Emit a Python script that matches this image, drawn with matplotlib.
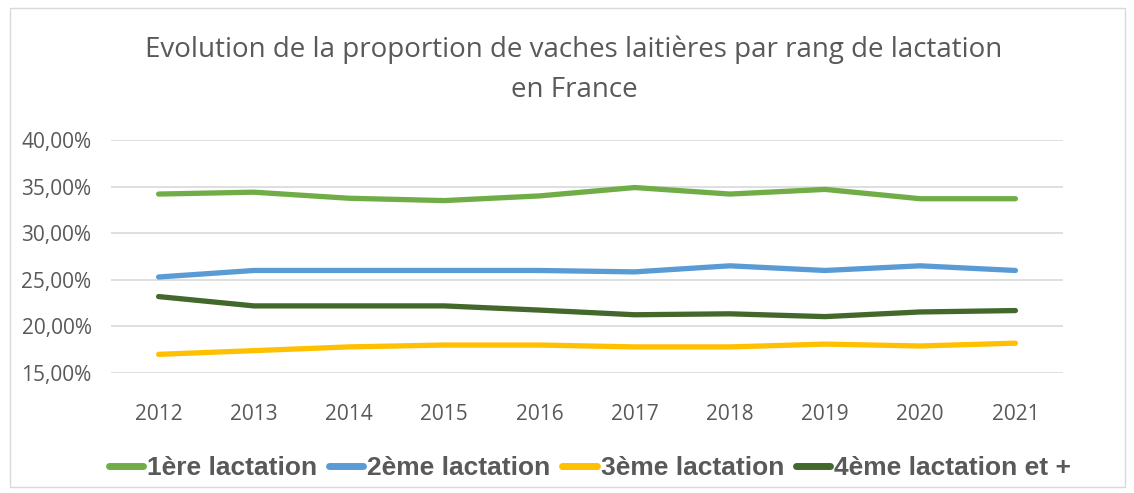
import matplotlib.pyplot as plt
from matplotlib.ticker import FuncFormatter
from matplotlib.patches import Rectangle

years = ['2012', '2013', '2014', '2015', '2016', '2017', '2018', '2019', '2020', '2021']
lact_1 = [34.2, 34.4, 33.75, 33.5, 34.0, 34.9, 34.2, 34.7, 33.7, 33.7]
lact_2 = [25.3, 26.0, 26.0, 26.0, 26.0, 25.85, 26.5, 26.0, 26.5, 26.0]
lact_3 = [17.0, 17.4, 17.8, 18.0, 18.0, 17.8, 17.8, 18.1, 17.9, 18.2]
lact_4 = [23.2, 22.2, 22.2, 22.2, 21.75, 21.25, 21.35, 21.05, 21.55, 21.7]

series = [
    ('1ère lactation', lact_1, '#70AD47'),
    ('2ème lactation', lact_2, '#5B9BD5'),
    ('3ème lactation', lact_3, '#FFC000'),
    ('4ème lactation et +', lact_4, '#43682B'),
]

plt.rcParams['font.family'] = ['Liberation Sans', 'DejaVu Sans']
grey = '#595959'

fig = plt.figure(figsize=(11.34, 4.93), dpi=100)
W, H = 1134, 493
ax = fig.add_axes([111 / W, 1 - 373 / H, (1063 - 111) / W, (373 - 140) / H])

x = range(len(years))
for label, vals, color in series:
    ax.plot(x, vals, color=color, lw=3.8, label=label, solid_capstyle='round')

ax.set_xlim(-0.5, len(years) - 0.5)
ax.set_ylim(15, 40)
ax.set_yticks([15, 20, 25, 30, 35, 40])
ax.yaxis.set_major_formatter(FuncFormatter(lambda v, p: f'{v:.2f}'.replace('.', ',') + '%'))
ax.set_xticks(list(x))
ax.set_xticklabels(years)
ax.grid(axis='y', color='#D9D9D9', lw=1.2)
ax.set_axisbelow(True)
for s in ax.spines.values():
    s.set_visible(False)
ax.tick_params(length=0, colors=grey, pad=14)
ax.tick_params(axis='x', pad=22)
for t in ax.get_yticklabels() + ax.get_xticklabels():
    t.set_family(['Open Sans', 'DejaVu Sans'])
    t.set_fontsize(15)

fig.text(574 / W, 1 - 70 / H, 'Evolution de la proportion de vaches laitières par rang de lactation\nen France',
         ha='center', va='center', fontsize=20, color=grey, family=['Open Sans', 'DejaVu Sans'],
         linespacing=1.55)

leg = fig.legend(loc='center', bbox_to_anchor=(590 / W, 1 - 468 / H), ncol=4, frameon=False,
                 handlelength=1.3, handletextpad=0.15, columnspacing=0.45,
                 prop={'size': 19, 'weight': 'bold'})
for t in leg.get_texts():
    t.set_color(grey)
for h in leg.legend_handles:
    h.set_linewidth(5)

fig.patches.append(Rectangle((10 / W, 1 - 487 / H), (1125 - 10) / W, (487 - 8) / H,
                             transform=fig.transFigure, fill=False, edgecolor='#D9D9D9', lw=1))

fig.savefig('out.png', dpi=100)
